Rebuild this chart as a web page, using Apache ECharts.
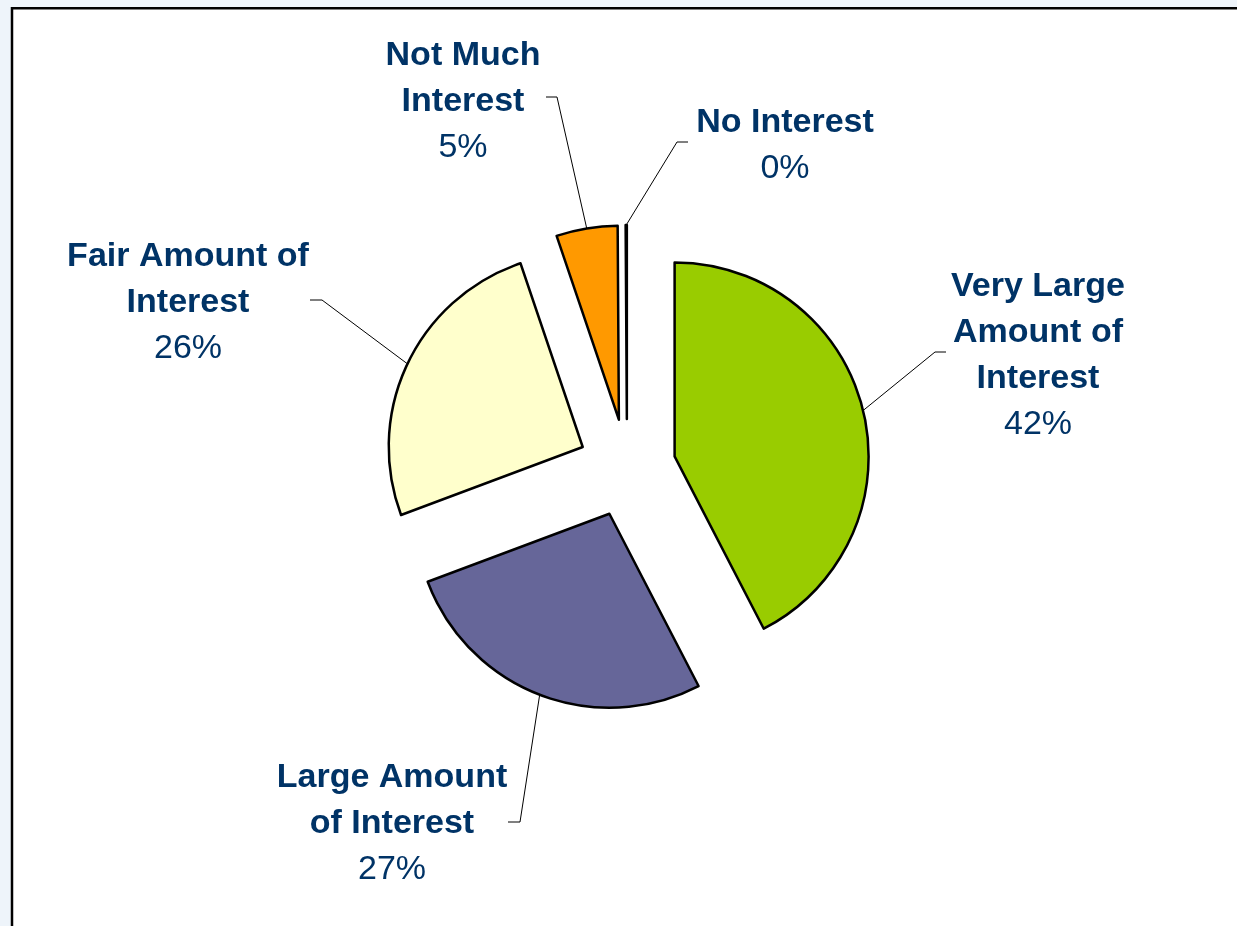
<!DOCTYPE html>
<html><head><meta charset="utf-8">
<script src="https://cdn.jsdelivr.net/npm/echarts@6/dist/echarts.min.js"></script>
<style>html,body{margin:0;padding:0;background:#EEF4FA}#c{width:1237px;height:926px}</style>
</head><body><div id="c"></div>
<script>
// Data
const categories = ['Very Large\nAmount of\nInterest', 'Large Amount\nof Interest', 'Fair Amount of\nInterest', 'Not Much\nInterest', 'No Interest'];
const values = [42.4, 26.9, 25.5, 5.1, 0.1];

// Styles / layout (not data)
const colors = ['#99CC00', '#666699', '#FFFFCC', '#FF9900', '#FFFFFF'];
const explode = 49;
const labelTops = [[1038, 264], [392, 755], [188, 234], [463, 33], [785, 100]];
const labelElbows = [
  [[935, 352], [946, 352]],
  [[520, 822], [508, 822]],
  [[322, 300], [310, 300]],
  [[557, 97], [546, 97]],
  [[677, 142], [688, 142]]
];

const chart = echarts.init(document.getElementById('c'), null, {renderer: 'canvas'});
const txt = {fontFamily: 'Liberation Sans', fontSize: 34, lineHeight: 46, fill: '#003366', align: 'center'};
const frame = {
  type: 'rect', silent: true, z: 0,
  shape: {x: 12, y: 8.3, width: 1300, height: 1000},
  style: {fill: '#FFFFFF', stroke: '#000000', lineWidth: 2.5}
};
chart.setOption({
  backgroundColor: '#EEF4FA',
  animation: false,
  graphic: [frame],
  series: [{
    type: 'pie',
    center: [627, 468],
    radius: 194,
    startAngle: 90,
    clockwise: true,
    selectedMode: 'multiple',
    selectedOffset: explode,
    minAngle: 0,
    avoidLabelOverlap: false,
    itemStyle: {borderColor: '#000000', borderWidth: 2.5},
    emphasis: {disabled: true},
    label: {show: false},
    labelLine: {show: false},
    data: categories.map((c, i) => ({name: c, value: values[i], selected: true, itemStyle: {color: colors[i]}}))
  }]
});

// Labels and leader lines, anchored on the library's own slice layout
const data = chart.getModel().getSeriesByIndex(0).getData();
const total = values.reduce((a, b) => a + b, 0);
const extra = [];
categories.forEach((name, i) => {
  const lay = data.getItemLayout(i);
  const m = (lay.startAngle + lay.endAngle) / 2;
  const sx = lay.cx + Math.cos(m) * (explode + lay.r);
  const sy = lay.cy + Math.sin(m) * (explode + lay.r);
  extra.push({
    type: 'polyline', silent: true, z: 10,
    shape: {points: [[sx, sy], labelElbows[i][0], labelElbows[i][1]]},
    style: {stroke: '#000000', lineWidth: 1, fill: null}
  });
  const pct = Math.round(values[i] / total * 100);
  extra.push({
    type: 'text', silent: true, z: 10,
    x: labelTops[i][0], y: labelTops[i][1],
    style: {
      text: '{n|' + name + '}\n{p|' + pct + '%}',
      align: 'center', verticalAlign: 'top',
      rich: {
        n: Object.assign({fontWeight: 'bold'}, txt),
        p: Object.assign({fontWeight: 'normal'}, txt)
      }
    }
  });
});
chart.setOption({graphic: [frame].concat(extra)});
</script>
</body></html>
